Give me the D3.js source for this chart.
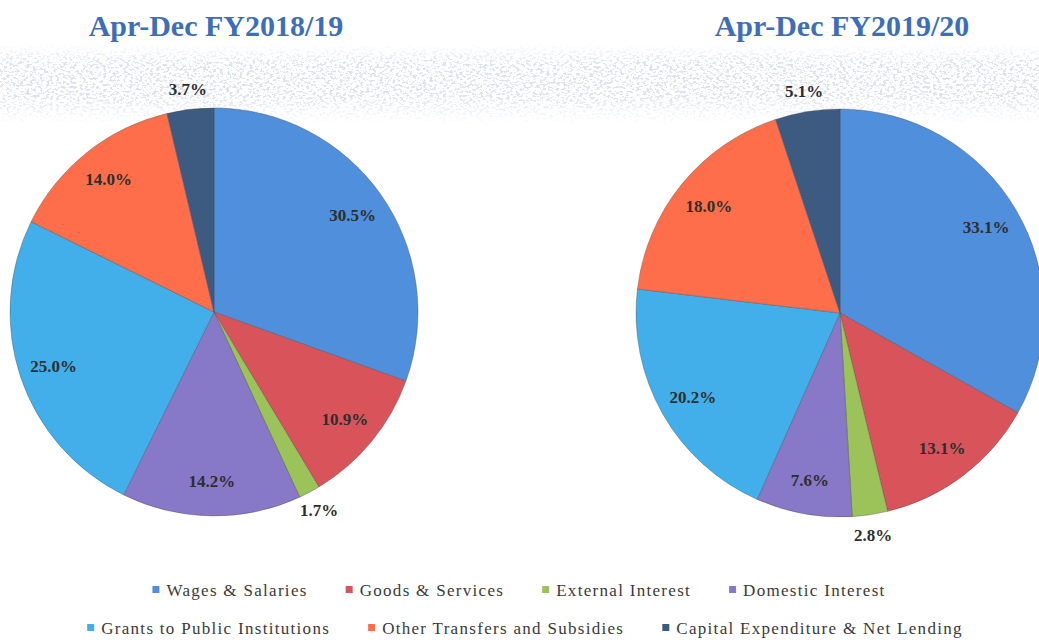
<!DOCTYPE html>
<meta charset='utf-8'>
<style>
	body {
		margin: 0;
		background: #fff;
	}

	.title {
		font-family: 'Liberation Serif', serif;
		font-weight: bold;
		fill: #3d6eb8;
		text-anchor: middle;
	}

	.lbl {
		font-family: 'Liberation Serif', serif;
		font-weight: bold;
		fill: #2e2e2e;
		text-anchor: middle;
	}

	.legend text {
		font-family: 'Liberation Serif', serif;
		fill: #3a3a3a;
		letter-spacing: 1.3px;
	}
</style>
<body>
<script src='https://cdn.jsdelivr.net/npm/d3@7/dist/d3.min.js'></script>

<script type='text/javascript'>
	var categories = ['Wages & Salaries', 'Goods & Services', 'External Interest', 'Domestic Interest',
		'Grants to Public Institutions', 'Other Transfers and Subsidies', 'Capital Expenditure & Net Lending'];
	var colors = ['#4f8fdc', '#d9535a', '#9bc35a', '#8878c8', '#42aeea', '#ff6e4b', '#3d5a80'];
	var titles = ['Apr-Dec FY2018/19', 'Apr-Dec FY2019/20'];
	var fy1819 = [30.5, 10.9, 1.7, 14.2, 25.0, 14.0, 3.7];
	var fy1920 = [33.1, 13.1, 2.8, 7.6, 20.2, 18.0, 5.1];

	var svgW = 1039, svgH = 642, rad = 204;
	var pies = [
		{title: titles[0], values: fy1819, cx: 214, cy: 312},
		{title: titles[1], values: fy1920, cx: 840, cy: 313}
	];

	var svg = d3.select('body').append('svg')
		.attr('width', svgW).attr('height', svgH);

	// speckled band behind the top of the pies
	var defs = svg.append('defs');
	var f = defs.append('filter').attr('id', 'speck').attr('x', 0).attr('y', 0).attr('width', 1).attr('height', 1);
	f.append('feTurbulence').attr('type', 'fractalNoise').attr('baseFrequency', '0.3 0.45').attr('numOctaves', 3).attr('seed', 7);
	f.append('feColorMatrix').attr('type', 'matrix')
		.attr('values', '0 0 0 0 0.58  0 0 0 0 0.64  0 0 0 0 0.74  9 0 0 0 -4.6');
	var grad = defs.append('linearGradient').attr('id', 'fade').attr('x1', 0).attr('y1', 0).attr('x2', 0).attr('y2', 1);
	grad.append('stop').attr('offset', 0).attr('stop-color', '#fff').attr('stop-opacity', 0);
	grad.append('stop').attr('offset', 0.25).attr('stop-color', '#fff').attr('stop-opacity', 1);
	grad.append('stop').attr('offset', 0.65).attr('stop-color', '#fff').attr('stop-opacity', 1);
	grad.append('stop').attr('offset', 1).attr('stop-color', '#fff').attr('stop-opacity', 0);
	var mask = defs.append('mask').attr('id', 'bandMask');
	mask.append('rect').attr('x', 0).attr('y', 44).attr('width', svgW).attr('height', 80).attr('fill', 'url(#fade)');
	svg.append('rect').attr('x', 0).attr('y', 44).attr('width', svgW).attr('height', 80)
		.attr('filter', 'url(#speck)').attr('mask', 'url(#bandMask)').attr('opacity', 0.6);

	var pie = d3.pie().sort(null).value(function (d) { return d; });
	var arc = d3.arc().innerRadius(0).outerRadius(rad);
	var inArc = d3.arc().innerRadius(rad * 0.83).outerRadius(rad * 0.83);
	var outArc = d3.arc().innerRadius(rad * 1.1).outerRadius(rad * 1.1);

	pies.forEach(function (p) {
		svg.append('text').attr('class', 'title')
			.attr('x', p.cx + 2).attr('y', 36).attr('font-size', 30)
			.text(p.title);

		var g = svg.append('g').attr('transform', 'translate(' + p.cx + ',' + p.cy + ')');
		var arcs = pie(p.values);

		g.selectAll('path').data(arcs).enter().append('path')
			.attr('d', arc)
			.attr('fill', function (d, i) { return colors[i]; })
			.attr('stroke', 'rgba(70,70,70,0.45)')
			.attr('stroke-width', 0.8);

		g.selectAll('text').data(arcs).enter().append('text').attr('class', 'lbl')
			.attr('font-size', 17)
			.attr('dy', '0.35em')
			.attr('transform', function (d) {
				var c = d.data < 6 ? outArc.centroid(d) : inArc.centroid(d);
				return 'translate(' + c + ')';
			})
			.text(function (d) { return d.data.toFixed(1) + '%'; });
	});

	// legend, two centred rows
	var rows = [[0, 1, 2, 3], [4, 5, 6]];
	var rowY = [590, 628], rowCx = [519, 525], gap = 38;
	var lg = svg.append('g').attr('class', 'legend');
	rows.forEach(function (row, r) {
		var items = row.map(function (i) {
			var t = lg.append('text').attr('font-size', 17).attr('dy', '0.35em').attr('y', rowY[r]).text(categories[i]);
			return {i: i, t: t, w: t.node().getComputedTextLength()};
		});
		var total = d3.sum(items, function (d) { return d.w + 14; }) + gap * (items.length - 1);
		var x = rowCx[r] - total / 2;
		items.forEach(function (d) {
			lg.append('rect').attr('x', x).attr('y', rowY[r] - 4).attr('width', 7).attr('height', 7)
				.attr('fill', colors[d.i]);
			d.t.attr('x', x + 14);
			x += d.w + 14 + gap;
		});
	});
</script>
